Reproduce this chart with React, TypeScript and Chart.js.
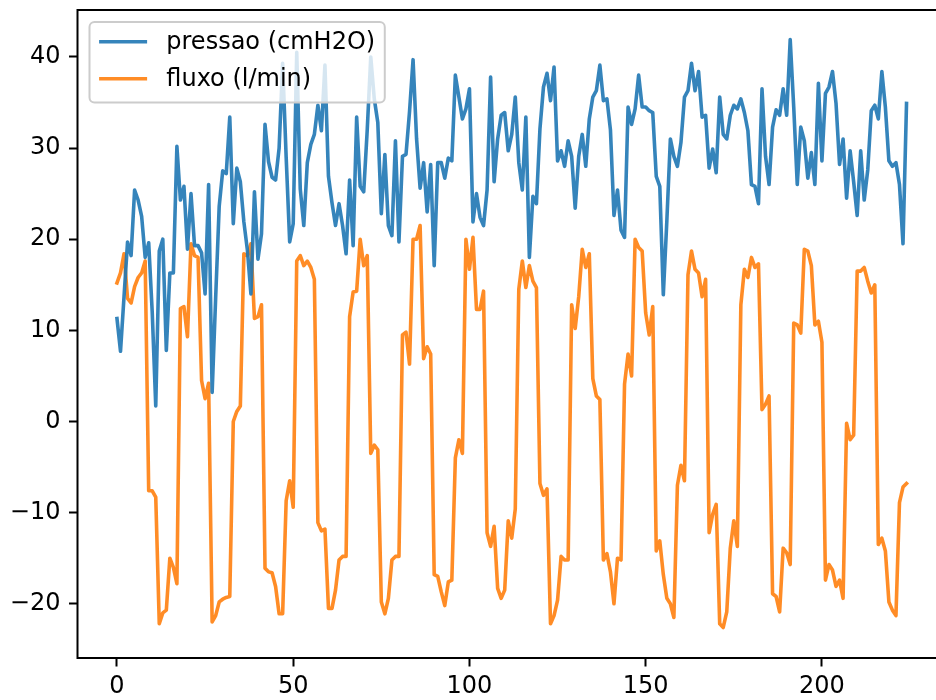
import React, { useEffect, useRef } from "react";
import { Chart, registerables } from "chart.js";

Chart.register(...registerables);

const seriesLabels = ["pressao (cmH2O)", "fluxo (l/min)"];
const seriesColors = ["rgba(31,119,180,0.9)", "rgba(255,127,14,0.9)"];

const pressao = [
  11.3, 7.7, 13.7, 19.7, 18.2, 25.4, 24.3, 22.5, 18, 19.6,
  12, 1.7, 18.7, 20, 7.8, 16.3, 16.3, 30.2, 24.3, 25.8,
  18.9, 25, 19.3, 19.3, 18.5, 14, 26, 3.2, 13.6, 23.6,
  27.5, 27.2, 33.4, 21.7, 27.8, 26.3, 21.9, 18.8, 14, 25.2,
  17.8, 20.6, 32.6, 28.5, 26.8, 26.5, 30, 39.3, 29, 19.7,
  21.7, 40.5, 25.5, 21.5, 28.4, 30.4, 31.5, 34.7, 31.9, 39.1,
  26.9, 24, 21.5, 23.9, 21.5, 18.4, 26.5, 19.3, 33.4, 25.8,
  25.2, 32, 40, 35.4, 32.8, 22.8, 29.3, 21.5, 20.4, 30.8,
  19.7, 29.1, 29.3, 34, 39.7, 31, 25.6, 28.4, 23, 28.2,
  17.1, 28.4, 28.4, 26.7, 28.9, 28.6, 38, 35.6, 33.2, 34.3,
  36.5, 21.9, 25, 22.4, 21.5, 25.4, 37.8, 26.3, 31, 33.6,
  33.9, 29.7, 31.5, 35.6, 28.4, 25.4, 33.4, 18, 24.7, 23.9,
  32.1, 36.7, 38.2, 35.2, 38.9, 28.6, 29.7, 28, 30.8, 29.1,
  23.4, 29.1, 31.5, 28, 33.2, 35.6, 36.3, 39.1, 35.2, 35.4,
  32, 22.6, 25.4, 21, 20.2, 34.5, 32.6, 34.3, 38, 34.5,
  34.5, 34.1, 33.9, 26.9, 25.8, 13.9, 22, 31, 29.1, 28,
  30.6, 35.6, 36.3, 39.3, 36.3, 38.4, 33.4, 33.6, 27.8, 29.9,
  27.3, 35.6, 31.5, 31, 33.6, 34.7, 34.3, 35.4, 33.9, 31.9,
  26, 25.8, 23.9, 36.5, 29.1, 26, 32.3, 34.2, 33.6, 36.5,
  33.6, 41.9, 34.5, 26, 32.3, 30.8, 26.7, 29.5, 26, 37.1,
  28.6, 36, 36.7, 38.4, 34.9, 28.2, 31, 24.5, 29.7, 26.3,
  22.6, 29.7, 24.3, 27.6, 34.1, 34.7, 33.2, 38.4, 34.5, 28.6,
  28, 28.4, 26, 19.5, 34.9,
];

const fluxo = [
  15.2, 16.3, 18.4, 13.5, 13, 14.8, 15.8, 16.3, 17.6, -7.6,
  -7.6, -8.3, -22.2, -21, -20.7, -15, -16, -17.8, 12.4, 12.6,
  9.3, 19.5, 18.2, 18, 4.5, 2.5, 4.2, -22, -21.3, -19.8,
  -19.5, -19.3, -19.2, 0, 1.1, 1.7, 18.4, 18.2, 19.5, 11.3,
  11.5, 12.8, -16.1, -16.5, -16.6, -18.1, -21.1, -21.1, -8.7, -6.5,
  -9.4, 17.6, 18.2, 17.1, 17.6, 16.9, 15.6, -11.1, -12, -11.8,
  -20.5, -20.5, -18.5, -15.2, -14.8, -14.8, 11.5, 14.2, 14.3, 20,
  17.1, 18.2, -3.5, -2.6, -3.1, -19.8, -21.1, -19.4, -15.2, -14.8,
  -14.8, 9.5, 9.8, 6.3, 20, 20, 21.5, 6.9, 8.2, 7.4,
  -16.8, -17, -18.7, -20.2, -17.6, -17.4, -4, -2, -3.5, 20,
  16.7, 20.2, 12.3, 12.3, 14.3, -12.2, -13.7, -11.5, -18.3, -19.4,
  -18.5, -10.9, -12.8, -9.6, 14.5, 17.6, 14.7, 17.1, 15.4, 14.7,
  -6.8, -8.1, -7.4, -22.2, -21.3, -19.6, -14.8, -15.2, -15.2, 12.8,
  10.2, 13.7, 18.9, 16.9, 18.4, 4.7, 2.8, 2.4, -15.2, -14.5,
  -16.5, -20, -15, -15.2, 4.1, 7.4, 5, 20, 19.1, 18.7,
  11.9, 9.5, 12.6, -14.2, -13.1, -16.8, -19.4, -20, -21.5, -7,
  -4.8, -6.5, 16.1, 18.7, 16.7, 16.3, 13.7, 15.6, -12.2, -10.2,
  -9.1, -22.2, -22.6, -20.9, -13.9, -10.9, -13.7, 12.8, 16.7, 15.8,
  18, 16.9, 17.3, 1.3, 1.9, 2.8, -18.9, -19.2, -20.9, -13.9,
  -14.4, -15.7, 10.8, 10.6, 9.7, 18.9, 18.7, 17.1, 10.6, 11,
  8.7, -17.4, -15.7, -16.3, -18.1, -17.4, -19.4, -0.2, -2, -1.5,
  16.5, 16.5, 16.9, 15.4, 14.1, 15, -13.5, -12.8, -14.2, -19.8,
  -20.7, -21.3, -8.9, -7.2, -6.8,
];

const xTicks = [0, 50, 100, 150, 200];
const yTicks = [-20, -10, 0, 10, 20, 30, 40];

const FONT = "'DejaVu Sans', sans-serif";
const FS = 24;

const fmt = (v: number) => (v < 0 ? "\u2212" + Math.abs(v) : String(v));

const framePlugin = {
  id: "mplFrame",
  afterDatasetsDraw(chart: any) {
    const { ctx, chartArea: a } = chart;
    ctx.save();
    ctx.strokeStyle = "#000";
    ctx.lineWidth = 2;
    ctx.strokeRect(a.left, a.top, a.right - a.left, a.bottom - a.top);
    ctx.restore();
  },
};

const legendPlugin = {
  id: "mplLegend",
  afterDraw(chart: any) {
    const { ctx, chartArea: a } = chart;
    ctx.save();
    ctx.font = `${FS}px ${FONT}`;
    const ds = chart.data.datasets;
    const tw = Math.max(...ds.map((d: any) => ctx.measureText(d.label).width));
    const pad = 0.4 * FS;
    const hl = 2 * FS;
    const htp = 0.8 * FS;
    const x0 = a.left + 0.5 * FS;
    const y0 = a.top + 0.5 * FS;
    const w = pad * 2 + hl + htp + tw;
    const h = 80.5;
    const r = 5;
    ctx.beginPath();
    ctx.moveTo(x0 + r, y0);
    ctx.lineTo(x0 + w - r, y0);
    ctx.arcTo(x0 + w, y0, x0 + w, y0 + r, r);
    ctx.lineTo(x0 + w, y0 + h - r);
    ctx.arcTo(x0 + w, y0 + h, x0 + w - r, y0 + h, r);
    ctx.lineTo(x0 + r, y0 + h);
    ctx.arcTo(x0, y0 + h, x0, y0 + h - r, r);
    ctx.lineTo(x0, y0 + r);
    ctx.arcTo(x0, y0, x0 + r, y0, r);
    ctx.closePath();
    ctx.fillStyle = "rgba(255,255,255,0.8)";
    ctx.fill();
    ctx.strokeStyle = "#cccccc";
    ctx.lineWidth = 2;
    ctx.stroke();
    ds.forEach((d: any, i: number) => {
      const y = y0 + 19.8 + i * 37;
      ctx.beginPath();
      ctx.moveTo(x0 + pad, y);
      ctx.lineTo(x0 + pad + hl, y);
      ctx.strokeStyle = d.borderColor;
      ctx.lineWidth = 3.6;
      ctx.lineCap = "butt";
      ctx.stroke();
      ctx.fillStyle = "#000";
      ctx.textBaseline = "middle";
      ctx.textAlign = "left";
      ctx.fillText(d.label, x0 + pad + hl + htp, y + 1);
    });
    ctx.restore();
  },
};

export default function App() {
  const ref = useRef<HTMLCanvasElement | null>(null);

  useEffect(() => {
    if (!ref.current) return;
    const series = [pressao, fluxo];
    const chart = new Chart(ref.current, {
      type: "line",
      data: {
        datasets: series.map((s, k) => ({
          label: seriesLabels[k],
          data: s.map((y, i) => ({ x: i, y })),
          borderColor: seriesColors[k],
          backgroundColor: seriesColors[k],
          borderWidth: 3.6,
          pointRadius: 0,
          pointHoverRadius: 0,
          fill: false,
          tension: 0,
          borderJoinStyle: "round",
          borderCapStyle: "square",
        })),
      },
      options: {
        responsive: false,
        animation: false,
        devicePixelRatio: 1,
        events: [],
        layout: { padding: { left: 0, top: 10, right: 14, bottom: 0 } },
        plugins: {
          legend: { display: false },
          tooltip: { enabled: false },
        },
        scales: {
          x: {
            type: "linear",
            min: -11.2,
            max: 235.2,
            afterBuildTicks: (s: any) => {
              s.ticks = xTicks.map((v) => ({ value: v }));
            },
            afterFit: (s: any) => {
              s.height = 42;
              s.paddingLeft = 0;
              s.paddingRight = 0;
            },
            grid: {
              drawOnChartArea: false,
              drawTicks: true,
              tickLength: 8.5,
              tickColor: "#000",
              tickWidth: 2,
            },
            border: { display: false },
            ticks: {
              color: "#000",
              font: { family: FONT, size: FS },
              padding: 6,
              maxRotation: 0,
              autoSkip: false,
              callback: (v: any) => fmt(Number(v)),
            },
          },
          y: {
            type: "linear",
            min: -25.95,
            max: 45.15,
            afterBuildTicks: (s: any) => {
              s.ticks = yTicks.map((v) => ({ value: v }));
            },
            afterFit: (s: any) => {
              s.width = 77.5;
              s.paddingTop = 0;
              s.paddingBottom = 0;
            },
            grid: {
              drawOnChartArea: false,
              drawTicks: true,
              tickLength: 8.5,
              tickColor: "#000",
              tickWidth: 2,
            },
            border: { display: false },
            ticks: {
              color: "#000",
              font: { family: FONT, size: FS },
              padding: 8.5,
              autoSkip: false,
              callback: (v: any) => fmt(Number(v)),
            },
          },
        },
      },
      plugins: [framePlugin, legendPlugin],
    } as any);
    return () => chart.destroy();
  }, []);

  return (
    <div
      style={{
        position: "fixed",
        left: 0,
        top: 0,
        width: 936,
        height: 700,
        overflow: "hidden",
        background: "#fff",
      }}
    >
      <canvas ref={ref} width={960} height={700} style={{ display: "block" }} />
    </div>
  );
}
